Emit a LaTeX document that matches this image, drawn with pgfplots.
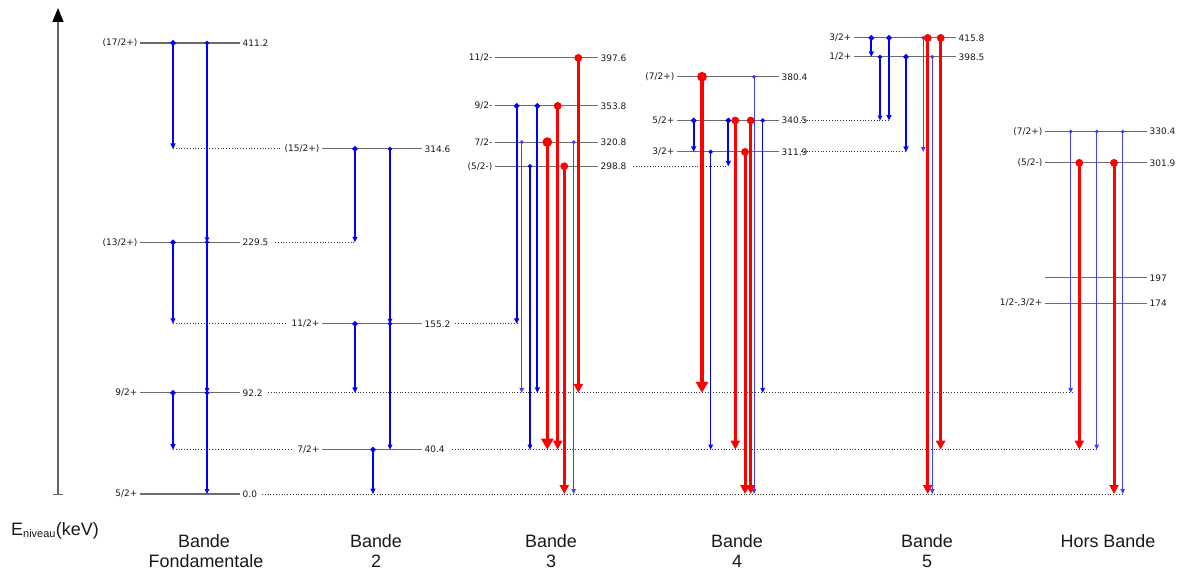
\documentclass[border=0pt]{standalone}
\usepackage{pgfplots}
\pgfplotsset{compat=1.18}
\usetikzlibrary{arrows.meta}
\usepackage{fontspec}
\setmainfont{Liberation Sans}
\newfontfamily\lblfont{DejaVu Sans}

\pgfplotsset{
  lev/.style={black!58, line width=1.1bp},
  dotl/.style={black!80, line width=0.9bp, dash pattern=on 1bp off 1.8bp},
  bA/.style={blue, line width=2bp, -{Triangle[width=5bp,length=5.5bp]}, mark=*, mark indices={1}, mark size=1.6bp, mark options={fill=blue,draw=none}},
  ba/.style={blue, line width=1.4bp, -{Triangle[width=4.5bp,length=5bp]}, mark=*, mark indices={1}, mark size=1.4bp, mark options={fill=blue,draw=none}},
  bt/.style={blue!75!white, line width=1bp, -{Triangle[width=4.5bp,length=5bp]}, mark=*, mark indices={1}, mark size=1.3bp, mark options={fill=blue,draw=none}},
  ra/.style={red, line width=3bp, -{Triangle[width=9bp,length=9bp]}, mark=*, mark indices={1}, mark size=2.3bp, mark options={fill=red,draw=none}},
  rA/.style={red, line width=3.5bp, -{Triangle[width=12bp,length=11bp]}, mark=*, mark indices={1}, mark size=3bp, mark options={fill=red,draw=none}},
}
\tikzset{
  sl/.style={anchor=east, inner sep=0pt, font=\lblfont\fontsize{9}{10}\selectfont, text=black!90},
  el/.style={anchor=west, inner sep=0pt, font=\lblfont\fontsize{9}{10}\selectfont, text=black!90},
  bl/.style={anchor=base, inner sep=0pt, font=\fontsize{18}{20}\selectfont, text=black!90},
}
\newcommand\lvl[4]{% xleft, xright, E, spin
  \addplot[lev] coordinates {(#1,#3) (#2,#3)};
  \node[sl] at (axis cs:#1-2.5,#3) {#4};
  \node[el] at (axis cs:#2+2.5,#3) {#3};
}

\begin{document}
\begin{tikzpicture}
\begin{axis}[
  scale only axis, width=1182bp, height=574bp,
  xmin=0, xmax=1182, ymin=-72.94, ymax=450.4,
  hide axis, clip=false,
]
% energy axis
\addplot[black!60, line width=1.5bp, -{Triangle[width=11bp,length=14bp,black]}] coordinates {(58,0) (58,443.1)};
\addplot[black!60, line width=1bp] coordinates {(53,0) (63,0)};
\node[anchor=base west, inner sep=0pt, font=\fontsize{18}{20}\selectfont, text=black!90] at (axis cs:11,-37.4) {E\textsubscript{\fontsize{11}{12}\selectfont niveau}(keV)};

% dotted connections
\addplot[dotl] coordinates {(173,314.6) (280,314.6)};
\addplot[dotl] coordinates {(275,229.5) (356,229.5)};
\addplot[dotl] coordinates {(173,155.2) (287,155.2)};
\addplot[dotl] coordinates {(455,155.2) (517,155.2)};
\addplot[dotl] coordinates {(268,92.2) (1072,92.2)};
\addplot[dotl] coordinates {(173,40.4) (292,40.4)};
\addplot[dotl] coordinates {(452,40.4) (1098,40.4)};
\addplot[dotl] coordinates {(262,0) (1124,0)};
\addplot[dotl] coordinates {(633,298.8) (728,298.8)};
\addplot[dotl] coordinates {(801,340.5) (890,340.5)};
\addplot[dotl] coordinates {(801,311.9) (906,311.9)};

% levels: Bande fondamentale
\lvl{140}{240}{411.2}{(17/2+)}
\lvl{140}{240}{229.5}{(13/2+)}
\lvl{140}{240}{92.2}{9/2+}
\lvl{140}{240}{0.0}{5/2+}
% Bande 2
\lvl{322}{422}{314.6}{(15/2+)}
\lvl{322}{422}{155.2}{11/2+}
\lvl{322}{422}{40.4}{7/2+}
% Bande 3
\lvl{495}{598}{397.6}{11/2-}
\lvl{495}{598}{353.8}{9/2-}
\lvl{495}{598}{320.8}{7/2-}
\lvl{495}{598}{298.8}{(5/2-)}
% Bande 4
\lvl{677}{779}{380.4}{(7/2+)}
\lvl{677}{779}{340.5}{5/2+}
\lvl{677}{779}{311.9}{3/2+}
% Bande 5
\lvl{854}{956}{415.8}{3/2+}
\lvl{854}{956}{398.5}{1/2+}
% Hors bande
\lvl{1045}{1147}{330.4}{(7/2+)}
\lvl{1045}{1147}{301.9}{(5/2-)}
\lvl{1045}{1147}{197}{}
\lvl{1045}{1147}{174}{1/2-,3/2+}

% transitions: Bande fondamentale
\addplot[bA] coordinates {(173,411.2) (173,314.6)};
\addplot[ba] coordinates {(207,411.2) (207,229.5)};
\addplot[ba] coordinates {(207,229.5) (207,92.2)};
\addplot[ba] coordinates {(207,92.2) (207,0)};
\addplot[bA] coordinates {(173,229.5) (173,155.2)};
\addplot[bA] coordinates {(173,92.2) (173,40.4)};
% Bande 2
\addplot[bA] coordinates {(355,314.6) (355,229.5)};
\addplot[ba] coordinates {(390,314.6) (390,155.2)};
\addplot[ba] coordinates {(390,155.2) (390,40.4)};
\addplot[bA] coordinates {(355,155.2) (355,92.2)};
\addplot[bA] coordinates {(373,40.4) (373,0)};
% Bande 3
\addplot[bA] coordinates {(516.7,353.8) (516.7,155.2)};
\addplot[bt] coordinates {(521.7,320.8) (521.7,92.2)};
\addplot[ba] coordinates {(530,298.8) (530,40.4)};
\addplot[bA] coordinates {(537.3,353.8) (537.3,92.2)};
\addplot[bt] coordinates {(573.7,320.8) (573.7,0)};
\addplot[rA] coordinates {(547.3,320.8) (547.3,40.4)};
\addplot[ra] coordinates {(557.7,353.8) (557.7,40.4)};
\addplot[ra] coordinates {(564.3,298.8) (564.3,0)};
\addplot[ra] coordinates {(578.3,397.6) (578.3,92.2)};
% Bande 4
\addplot[bA] coordinates {(693.7,340.5) (693.7,311.9)};
\addplot[ba] coordinates {(710.7,311.9) (710.7,40.4)};
\addplot[bA] coordinates {(728.3,340.5) (728.3,298.8)};
\addplot[bt] coordinates {(754,380.4) (754,0)};
\addplot[ba] coordinates {(762.7,340.5) (762.7,92.2)};
\addplot[rA] coordinates {(702,380.4) (702,92.2)};
\addplot[ra] coordinates {(735.3,340.5) (735.3,40.4)};
\addplot[ra] coordinates {(745,311.9) (745,0)};
\addplot[ra] coordinates {(750.7,340.5) (750.7,0)};
% Bande 5
\addplot[bA] coordinates {(871.3,415.8) (871.3,398.5)};
\addplot[ba] coordinates {(880,398.5) (880,340.5)};
\addplot[bA] coordinates {(889,415.8) (889,340.5)};
\addplot[bA] coordinates {(906,398.5) (906,311.9)};
\addplot[bt] coordinates {(923.3,415.8) (923.3,311.9)};
\addplot[bt] coordinates {(932.3,398.5) (932.3,0)};
\addplot[ra] coordinates {(927.7,415.8) (927.7,0)};
\addplot[ra] coordinates {(940.7,415.8) (940.7,40.4)};
% Hors bande
\addplot[bt] coordinates {(1070.7,330.4) (1070.7,92.2)};
\addplot[bt] coordinates {(1096.7,330.4) (1096.7,40.4)};
\addplot[bt] coordinates {(1122.7,330.4) (1122.7,0)};
\addplot[ra] coordinates {(1079.3,301.9) (1079.3,40.4)};
\addplot[ra] coordinates {(1114,301.9) (1114,0)};

% band names
\node[bl] at (axis cs:204,-49.2) {Bande};
\node[bl] at (axis cs:206,-67.1) {Fondamentale};
\node[bl] at (axis cs:376,-49.2) {Bande};
\node[bl] at (axis cs:376,-67.1) {2};
\node[bl] at (axis cs:551,-49.2) {Bande};
\node[bl] at (axis cs:551,-67.1) {3};
\node[bl] at (axis cs:737,-49.2) {Bande};
\node[bl] at (axis cs:737,-67.1) {4};
\node[bl] at (axis cs:927,-49.2) {Bande};
\node[bl] at (axis cs:927,-67.1) {5};
\node[bl] at (axis cs:1108,-49.2) {Hors Bande};
\end{axis}
\pgfresetboundingbox
\path (current axis.south west) rectangle (current axis.north east);
\end{tikzpicture}
\end{document}
